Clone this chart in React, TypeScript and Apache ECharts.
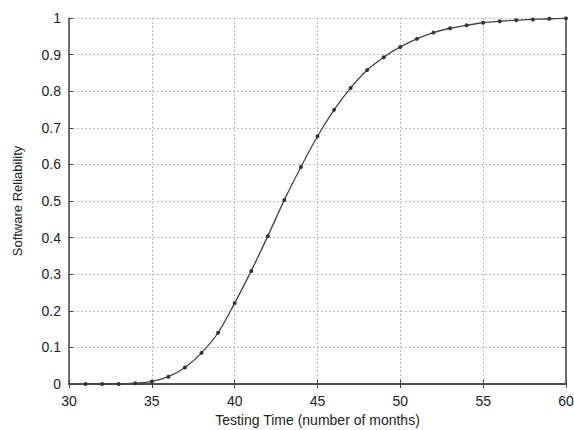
import React, { useEffect, useRef } from "react";
import * as echarts from "echarts";

const months = [31, 32, 33, 34, 35, 36, 37, 38, 39, 40, 41, 42, 43, 44, 45, 46, 47, 48, 49, 50, 51, 52, 53, 54, 55, 56, 57, 58, 59, 60];
const reliability = [0.0, 0.0, 0.0, 0.002, 0.007, 0.02, 0.045, 0.085, 0.14, 0.221, 0.309, 0.404, 0.503, 0.593, 0.677, 0.749, 0.809, 0.858, 0.893, 0.921, 0.943, 0.96, 0.972, 0.98, 0.987, 0.991, 0.994, 0.996, 0.998, 0.999];
const xTitle = "Testing Time (number of months)";
const yTitle = "Software Reliability";

export default function App() {
  const ref = useRef<HTMLDivElement>(null);
  useEffect(() => {
    if (!ref.current) return;
    const chart = echarts.init(ref.current, null, { renderer: "svg" });
    const font = "Liberation Sans, Arial, sans-serif";
    const axisLine = { show: true, lineStyle: { color: "#444", width: 1.5 } };
    const tick = { show: true, inside: true, length: 4, lineStyle: { color: "#444" } };
    chart.setOption({
      animation: false,
      backgroundColor: "#fff",
      grid: { left: 69, right: 8, top: 18, bottom: 46, containLabel: false, outerBoundsMode: "none" },
      xAxis: [
        {
          type: "value",
          min: 30,
          max: 60,
          interval: 5,
          name: xTitle,
          nameLocation: "middle",
          nameGap: 28,
          nameTextStyle: { fontFamily: font, fontSize: 14, color: "#222" },
          axisLine,
          axisTick: tick,
          axisLabel: { fontFamily: font, fontSize: 14, color: "#222", margin: 10 },
          splitLine: { show: true, lineStyle: { color: "#bbb", type: [2, 2], width: 1 } },
        },
        {
          type: "value",
          position: "top",
          min: 30,
          max: 60,
          interval: 5,
          axisLine,
          axisTick: tick,
          axisLabel: { show: false },
          splitLine: { show: false },
        },
      ],
      yAxis: [
        {
          type: "value",
          min: 0,
          max: 1,
          interval: 0.1,
          name: yTitle,
          nameLocation: "middle",
          nameGap: 45,
          nameTextStyle: { fontFamily: font, fontSize: 13, color: "#222" },
          axisLine,
          axisTick: tick,
          axisLabel: {
            fontFamily: font,
            fontSize: 14,
            color: "#222",
            margin: 8,
            formatter: (v: number) => String(Math.round(v * 10) / 10),
          },
          splitLine: { show: true, lineStyle: { color: "#bbb", type: [2, 2], width: 1 } },
        },
        {
          type: "value",
          position: "right",
          min: 0,
          max: 1,
          interval: 0.1,
          axisLine,
          axisTick: tick,
          axisLabel: { show: false },
          splitLine: { show: false },
        },
      ],
      series: [
        {
          type: "line",
          xAxisIndex: 0,
          yAxisIndex: 0,
          data: months.map((m, i) => [m, reliability[i]]),
          smooth: 0.3,
          symbol: "circle",
          symbolSize: 4,
          lineStyle: { color: "#444", width: 1.3 },
          itemStyle: { color: "#333" },
        },
      ],
    });
    return () => chart.dispose();
  }, []);
  return <div ref={ref} style={{ position: "absolute", left: 0, top: 0, width: 574, height: 430 }} />;
}
